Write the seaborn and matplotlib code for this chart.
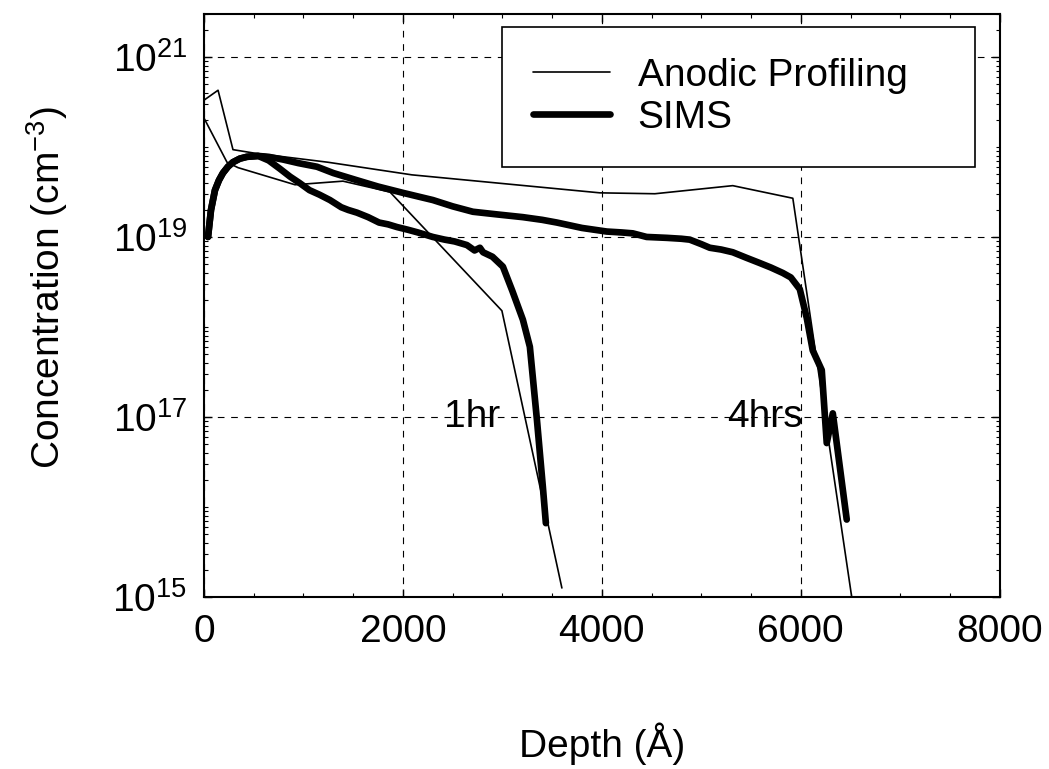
import numpy as np
import pandas as pd
import matplotlib
matplotlib.use("Agg")
import matplotlib.pyplot as plt
import matplotlib.ticker as mticker
import seaborn as sns

# ---- data (log10 of concentration in cm^-3, depth in Angstrom) ----
anodic_1hr_depth = [0, 231, 342, 915, 1397, 1869, 2995, 3598]
anodic_1hr_log = [20.32, 19.83, 19.77, 19.58, 19.62, 19.50, 18.18, 15.10]

anodic_4hr_depth = [0, 141, 291, 513, 1246, 2090, 3980, 4533, 5316, 5920, 6512]
anodic_4hr_log = [20.52, 20.63, 19.97, 19.93, 19.83, 19.69, 19.49, 19.48, 19.57, 19.43, 15.0]

sims_1hr_depth = [40, 70, 110, 150, 190, 240, 290, 360, 430, 545, 650, 760, 865, 960,
                  1060, 1160, 1266, 1380, 1450, 1538, 1650, 1760, 1850, 1940, 2050,
                  2150, 2300, 2420, 2520, 2643, 2720, 2774, 2805, 2900, 3005, 3100,
                  3206, 3276, 3347, 3407, 3437]
sims_1hr_log = [19.00, 19.30, 19.52, 19.63, 19.71, 19.78, 19.83, 19.87, 19.89, 19.90,
                19.85, 19.76, 19.67, 19.60, 19.52, 19.47, 19.41, 19.33, 19.30, 19.27,
                19.22, 19.16, 19.14, 19.11, 19.08, 19.05, 19.00, 18.97, 18.95, 18.91,
                18.85, 18.88, 18.83, 18.78, 18.67, 18.40, 18.08, 17.78, 16.97, 16.22,
                15.82]

sims_4hr_depth = [40, 70, 110, 150, 190, 240, 290, 360, 430, 545, 650, 794, 950, 1136,
                  1300, 1538, 1750, 2000, 2150, 2301, 2500, 2703, 2950, 3206, 3400,
                  3548, 3800, 4050, 4200, 4311, 4450, 4653, 4800, 4884, 5000, 5085,
                  5200, 5316, 5450, 5588, 5700, 5819, 5900, 5990, 6060, 6120, 6211,
                  6261, 6322, 6462]
sims_4hr_log = [19.00, 19.30, 19.52, 19.63, 19.71, 19.78, 19.83, 19.87, 19.89, 19.90,
                19.89, 19.86, 19.82, 19.78, 19.71, 19.63, 19.56, 19.49, 19.45, 19.41,
                19.34, 19.28, 19.25, 19.22, 19.19, 19.16, 19.10, 19.06, 19.05, 19.04,
                19.00, 18.99, 18.98, 18.97, 18.92, 18.88, 18.86, 18.83, 18.77, 18.71,
                18.66, 18.60, 18.55, 18.42, 18.10, 17.74, 17.52, 16.71, 17.04, 15.86]

series_labels = ["Anodic Profiling", "SIMS"]
annotations = ["1hr", "4hrs"]
annot_x = [2697, 5638]
annot_y = [1e17, 1e17]
x_ticks = [0, 2000, 4000, 6000, 8000]
y_ticks = [1e15, 1e17, 1e19, 1e21]

# ---- style ----
sns.set_style("ticks")
plt.rcParams["font.family"] = ["Liberation Sans", "DejaVu Sans"]
plt.rcParams["mathtext.fontset"] = "custom"
plt.rcParams["mathtext.rm"] = "Liberation Sans"
plt.rcParams["mathtext.it"] = "Liberation Sans"
plt.rcParams["mathtext.default"] = "regular"
plt.rcParams["text.color"] = "black"
plt.rcParams["axes.labelcolor"] = "black"
plt.rcParams["xtick.color"] = "black"
plt.rcParams["ytick.color"] = "black"

FS = 28

fig = plt.figure(figsize=(10.49, 7.69), dpi=100)
ax = fig.add_axes([0.1945, 0.2237, 0.7585, 0.7581])

def to_df(d, l):
    return pd.DataFrame({"depth": d, "conc": np.power(10.0, l)})

thin_lw = 1.2
thick_lw = 4.8
sns.lineplot(data=to_df(anodic_1hr_depth, anodic_1hr_log), x="depth", y="conc",
             ax=ax, color="black", lw=thin_lw, sort=False, label=series_labels[0])
sns.lineplot(data=to_df(anodic_4hr_depth, anodic_4hr_log), x="depth", y="conc",
             ax=ax, color="black", lw=thin_lw, sort=False)
sns.lineplot(data=to_df(sims_1hr_depth, sims_1hr_log), x="depth", y="conc",
             ax=ax, color="black", lw=thick_lw, sort=False, label=series_labels[1])
sns.lineplot(data=to_df(sims_4hr_depth, sims_4hr_log), x="depth", y="conc",
             ax=ax, color="black", lw=thick_lw, sort=False)

ax.set_yscale("log")
ax.set_xlim(0, 8000)
ax.set_ylim(1e15, 3.0e21)

ax.set_xticks(x_ticks)
ax.set_xticklabels([str(v) for v in x_ticks])
ax.xaxis.set_minor_locator(mticker.MultipleLocator(500))
ax.set_yticks(y_ticks)
ax.set_yticklabels([r"$10^{%d}$" % int(round(np.log10(v))) for v in y_ticks])
ax.yaxis.set_minor_locator(mticker.LogLocator(base=10, subs=np.arange(1, 10), numticks=100))
ax.yaxis.set_minor_formatter(mticker.NullFormatter())

ax.tick_params(axis="both", which="major", direction="in", length=6, width=1.0,
               top=True, right=True, labelsize=FS, pad=12, colors="black")
ax.tick_params(axis="both", which="minor", direction="in", length=3, width=0.8,
               top=True, right=True)

ax.grid(True, which="major", color="black", linestyle=(0, (6, 6)), linewidth=0.8)
for s in ax.spines.values():
    s.set_color("black")
    s.set_linewidth(1.5)

ax.set_xlabel("Depth (Å)", fontsize=FS)
ax.xaxis.set_label_coords(0.5, -0.216)
ax.set_ylabel("Concentration (cm$^{-3}$)", fontsize=FS)
ax.yaxis.set_label_coords(-0.168, 0.53)

for t, xv, yv in zip(annotations, annot_x, annot_y):
    ax.text(xv, yv, t, fontsize=FS, ha="center", va="center", color="black")

leg = ax.legend(loc="upper left", bbox_to_anchor=(0.374, 0.746, 0.595, 0.232),
                mode="expand", fontsize=FS, frameon=True, fancybox=False,
                shadow=False, handlelength=2.0, handletextpad=0.7, borderpad=0.8,
                labelspacing=0.15, borderaxespad=0.0)
leg.get_frame().set_edgecolor("black")
leg.get_frame().set_linewidth(1.2)
leg.get_frame().set_alpha(1.0)
for txt in leg.get_texts():
    txt.set_color("black")

fig.savefig("out.png", dpi=100)
